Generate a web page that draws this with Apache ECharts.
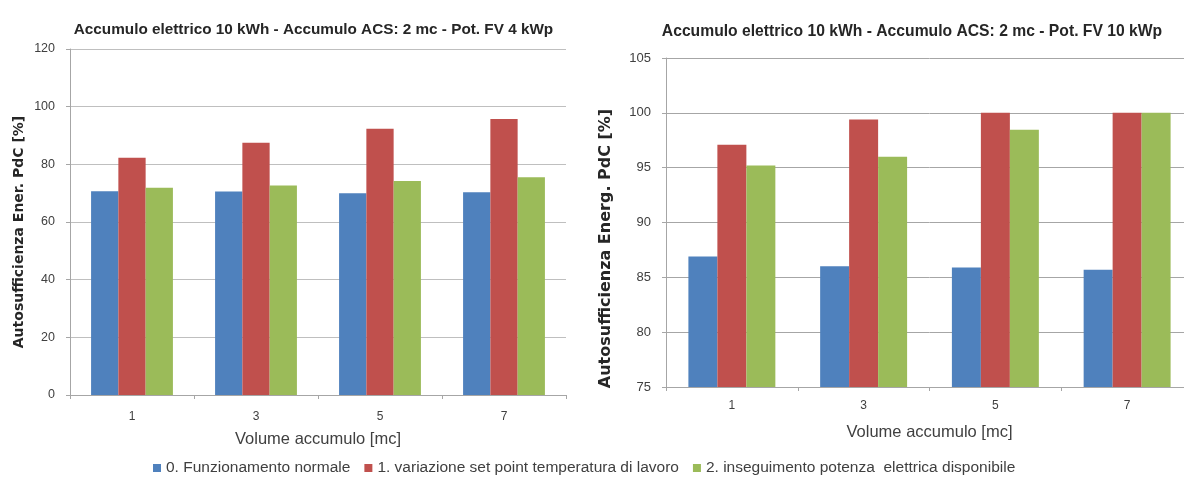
<!DOCTYPE html>
<html>
<head>
<meta charset="utf-8">
<script src="https://cdn.jsdelivr.net/npm/echarts@6/dist/echarts.min.js"></script>
<style>
html,body{margin:0;padding:0;background:#fff;overflow:hidden;}
#chart{width:1200px;height:490px;}
</style>
</head>
<body>
<div id="chart"></div>
<script>
const categories = ['1', '3', '5', '7'];
const seriesNames = ['0. Funzionamento normale', '1. variazione set point temperatura di lavoro', '2. inseguimento potenza  elettrica disponibile'];
// Left chart: PV 4 kWp
const left0 = [70.7, 70.6, 70.0, 70.3];
const left1 = [82.3, 87.5, 92.3, 95.7];
const left2 = [71.9, 72.7, 74.2, 75.5];
// Right chart: PV 10 kWp
const right0 = [86.9, 86.0, 85.9, 85.7];
const right1 = [97.1, 99.4, 100.0, 100.0];
const right2 = [95.2, 96.0, 98.45, 100.0];
const leftTicks = { min: 0, max: 120, interval: 20 };
const rightTicks = { min: 75, max: 105, interval: 5 };
const titles = ['Accumulo elettrico 10 kWh - Accumulo ACS: 2 mc - Pot. FV 4 kWp', 'Accumulo elettrico 10 kWh - Accumulo ACS: 2 mc - Pot. FV 10 kWp'];
const xName = 'Volume accumulo [mc]';
const yNames = ['Autosufficienza Ener. PdC [%]', 'Autosufficienza Energ. PdC [%]'];

const colors = ['#4F81BD', '#C0504D', '#9BBB59'];
const FONT = '"Liberation Sans", Arial, sans-serif';
const BFONT = '"DejaVu Sans", "Liberation Sans", sans-serif';
const chart = echarts.init(document.getElementById('chart'));

function xAxis(gridIndex, margin, gap) {
  return {
    type: 'category', gridIndex, data: categories,
    axisLine: { lineStyle: { color: '#A6A6A6', width: 1 } },
    axisTick: { show: true, length: 4, lineStyle: { color: '#A6A6A6' } },
    axisLabel: { color: '#404040', fontSize: 12, fontFamily: FONT, margin },
    name: xName, nameLocation: 'middle', nameGap: gap,
    nameTextStyle: { color: '#404040', fontSize: 16.5, fontFamily: FONT }
  };
}
function yAxis(gridIndex, t, name, gap, gridColor, labelSize, nameSize, namePad) {
  return {
    type: 'value', gridIndex, min: t.min, max: t.max, interval: t.interval,
    axisLine: { show: true, lineStyle: { color: '#A6A6A6' } },
    axisTick: { show: true, length: 4, lineStyle: { color: '#A6A6A6' } },
    axisLabel: { color: '#404040', fontSize: labelSize, fontFamily: FONT, margin: 15 },
    splitLine: { lineStyle: { color: gridColor, width: 1 } },
    name, nameLocation: 'middle', nameGap: gap, nameRotate: 90,
    nameTextStyle: { color: '#262626', fontSize: nameSize, fontWeight: 'bold', fontFamily: BFONT, padding: namePad }
  };
}
function bar(name, data, idx, color) {
  return {
    name, type: 'bar', xAxisIndex: idx, yAxisIndex: idx, data,
    itemStyle: { color }, barGap: '0%', barCategoryGap: '34%', animation: false
  };
}

chart.setOption({
  animation: false,
  color: colors,
  title: [
    { text: titles[0], left: 308.5, top: 17, textAlign: 'center',
      textStyle: { fontSize: 15.3, fontWeight: 'bold', color: '#262626', fontFamily: FONT } },
    { text: titles[1], left: 907, top: 19, textAlign: 'center',
      textStyle: { fontSize: 15.7, fontWeight: 'bold', color: '#262626', fontFamily: FONT } }
  ],
  legend: {
    data: seriesNames, top: 455, left: 148,
    itemWidth: 8, itemHeight: 8, itemGap: 14, icon: 'rect',
    textStyle: { color: '#404040', fontSize: 15.5, fontFamily: FONT }
  },
  grid: [
    { left: 70, top: 49, width: 496, height: 346 },
    { left: 666, top: 58, width: 527, height: 329 }
  ],
  xAxis: [xAxis(0, 16, 36), xAxis(1, 13, 37)],
  yAxis: [
    yAxis(0, leftTicks, yNames[0], 44, '#BFBFBF', 12.5, 14, [0, 20, 0, 0]),
    yAxis(1, rightTicks, yNames[1], 52, '#A6A6A6', 13, 16, [0, 52, 0, 0])
  ],
  series: [
    bar(seriesNames[0], left0, 0, colors[0]),
    bar(seriesNames[1], left1, 0, colors[1]),
    bar(seriesNames[2], left2, 0, colors[2]),
    bar(seriesNames[0], right0, 1, colors[0]),
    bar(seriesNames[1], right1, 1, colors[1]),
    bar(seriesNames[2], right2, 1, colors[2])
  ]
});
</script>
</body>
</html>
